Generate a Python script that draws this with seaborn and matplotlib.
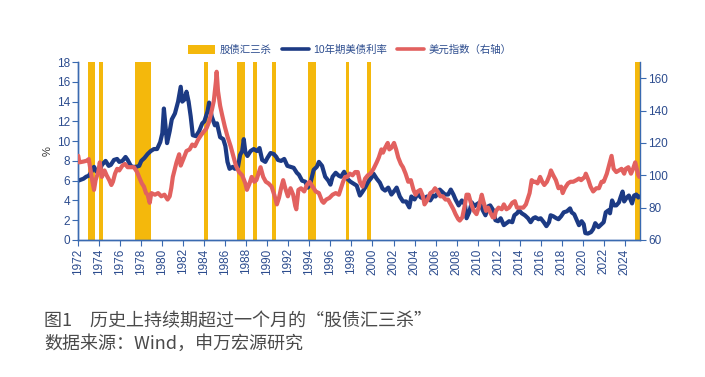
import numpy as np
import pandas as pd
import matplotlib.pyplot as plt
import seaborn as sns
from matplotlib.patches import Patch
from matplotlib.lines import Line2D

# 10年期美债利率 (%)
yield_years = [1972.0, 1972.25, 1972.5, 1972.75, 1973.0, 1973.25, 1973.5, 1973.75, 1974.0, 1974.25,
               1974.6, 1974.9, 1975.1, 1975.4, 1975.7, 1975.9, 1976.2, 1976.5, 1976.7, 1977.0,
               1977.2, 1977.5, 1977.8, 1978.0, 1978.3, 1978.6, 1978.9, 1979.2, 1979.5, 1979.8,
               1980.0, 1980.15, 1980.3, 1980.45, 1980.7, 1980.9, 1981.2, 1981.5, 1981.75, 1981.9,
               1982.1, 1982.3, 1982.5, 1982.7, 1982.9, 1983.2, 1983.5, 1983.8, 1984.0, 1984.3,
               1984.45, 1984.7, 1985.0, 1985.2, 1985.5, 1985.8, 1986.0, 1986.2, 1986.4, 1986.7,
               1986.9, 1987.2, 1987.4, 1987.6, 1987.75, 1987.9, 1988.1, 1988.4, 1988.7, 1989.0,
               1989.25, 1989.5, 1989.8, 1990.0, 1990.3, 1990.6, 1990.85, 1991.0, 1991.3, 1991.6,
               1991.9, 1992.2, 1992.5, 1992.8, 1993.0, 1993.3, 1993.6, 1993.85, 1994.1, 1994.4,
               1994.7, 1994.9, 1995.2, 1995.5, 1995.8, 1996.0, 1996.2, 1996.5, 1996.8, 1997.0,
               1997.3, 1997.6, 1997.9, 1998.2, 1998.5, 1998.8, 1999.0, 1999.3, 1999.6, 1999.9,
               2000.1, 2000.4, 2000.7, 2000.95, 2001.2, 2001.5, 2001.8, 2002.1, 2002.3, 2002.6,
               2002.9, 2003.2, 2003.5, 2003.7, 2004.0, 2004.3, 2004.6, 2004.9, 2005.2, 2005.5,
               2005.8, 2006.0, 2006.4, 2006.7, 2006.9, 2007.2, 2007.45, 2007.7, 2007.9, 2008.2,
               2008.5, 2008.8, 2008.95, 2009.2, 2009.45, 2009.7, 2009.9, 2010.2, 2010.5, 2010.75,
               2011.0, 2011.2, 2011.5, 2011.7, 2011.95, 2012.2, 2012.5, 2012.75, 2013.0, 2013.3,
               2013.5, 2013.75, 2013.95, 2014.2, 2014.5, 2014.8, 2015.05, 2015.3, 2015.5, 2015.8,
               2016.0, 2016.3, 2016.55, 2016.8, 2016.95, 2017.2, 2017.5, 2017.7, 2017.95, 2018.2,
               2018.5, 2018.8, 2018.95, 2019.2, 2019.45, 2019.65, 2019.9, 2020.1, 2020.25, 2020.5,
               2020.8, 2021.0, 2021.2, 2021.5, 2021.8, 2022.0, 2022.2, 2022.45, 2022.6, 2022.8,
               2023.0, 2023.2, 2023.45, 2023.6, 2023.8, 2023.95, 2024.2, 2024.4, 2024.7, 2024.9,
               2025.1, 2025.3, 2025.4]
yield_vals = [6.0, 6.1, 6.2, 6.4, 6.5, 6.9, 7.4, 6.9, 7.0, 7.6,
              8.0, 7.5, 7.6, 8.1, 8.2, 7.9, 8.0, 8.4, 8.1, 7.5,
              7.4, 7.4, 7.5, 8.0, 8.3, 8.7, 9.0, 9.2, 9.2, 9.9,
              10.8, 13.3, 11.5, 9.8, 11.0, 12.2, 12.8, 14.0, 15.5, 14.0,
              14.2, 15.0, 14.0, 12.5, 10.6, 10.5, 11.0, 11.8, 12.0, 13.0,
              13.9, 12.5, 11.6, 11.8, 10.4, 10.2, 9.5, 7.9, 7.2, 7.4,
              7.2, 7.4, 8.6, 9.0, 10.2, 8.9, 8.5, 9.0, 9.2, 9.0,
              9.3, 8.1, 7.9, 8.3, 8.8, 8.7, 8.4, 8.1, 8.0, 8.2,
              7.5, 7.4, 7.3, 6.8, 6.6, 6.0, 5.9, 5.3, 5.8, 7.1,
              7.4, 7.9, 7.5, 6.4, 6.0, 5.6, 6.4, 6.8, 6.5, 6.4,
              6.9, 6.2, 5.9, 5.7, 5.5, 4.5, 4.8, 5.3, 5.9, 6.3,
              6.7, 6.2, 5.8, 5.2, 5.0, 5.3, 4.6, 5.0, 5.3, 4.4,
              3.9, 3.9, 3.3, 4.4, 4.1, 4.7, 4.3, 4.2, 4.4, 4.0,
              4.5, 4.4, 5.1, 4.8, 4.6, 4.6, 5.1, 4.6, 4.1, 3.5,
              4.0, 3.6, 2.2, 2.8, 3.8, 3.4, 3.6, 3.8, 3.0, 2.5,
              3.4, 3.5, 3.0, 2.0, 1.9, 2.2, 1.5, 1.7, 1.9, 1.8,
              2.5, 2.7, 3.0, 2.7, 2.5, 2.2, 1.8, 2.2, 2.3, 2.1,
              2.2, 1.8, 1.4, 1.8, 2.5, 2.4, 2.2, 2.1, 2.4, 2.8,
              2.9, 3.2, 2.8, 2.6, 2.0, 1.5, 1.9, 1.6, 0.7, 0.65,
              0.8, 1.1, 1.7, 1.3, 1.6, 1.8, 2.8, 3.0, 2.7, 4.0,
              3.5, 3.5, 3.8, 4.3, 4.9, 3.9, 4.3, 4.5, 3.7, 4.5,
              4.6, 4.3, 4.4]

# 美元指数
dxy_years = [1972.0, 1972.1, 1972.5, 1972.8, 1973.0, 1973.15, 1973.35, 1973.5, 1973.65, 1973.9,
             1974.05, 1974.25, 1974.5, 1974.7, 1974.95, 1975.15, 1975.3, 1975.5, 1975.7, 1975.9,
             1976.2, 1976.45, 1976.7, 1977.0, 1977.3, 1977.6, 1977.85, 1978.05, 1978.25, 1978.45,
             1978.6, 1978.8, 1978.95, 1979.3, 1979.6, 1979.9, 1980.2, 1980.5, 1980.7, 1980.85,
             1981.0, 1981.2, 1981.35, 1981.6, 1981.75, 1982.0, 1982.3, 1982.6, 1982.85, 1983.1,
             1983.4, 1983.7, 1983.95, 1984.2, 1984.45, 1984.7, 1984.9, 1985.1, 1985.17, 1985.3,
             1985.5, 1985.7, 1985.95, 1986.2, 1986.5, 1986.75, 1987.0, 1987.3, 1987.6, 1987.9,
             1988.05, 1988.3, 1988.5, 1988.75, 1988.95, 1989.2, 1989.35, 1989.6, 1989.85, 1990.1,
             1990.4, 1990.65, 1990.9, 1991.1, 1991.3, 1991.5, 1991.7, 1991.95, 1992.2, 1992.45,
             1992.65, 1992.75, 1992.95, 1993.2, 1993.5, 1993.75, 1994.0, 1994.3, 1994.6, 1994.9,
             1995.2, 1995.35, 1995.6, 1995.9, 1996.2, 1996.5, 1996.8, 1997.0, 1997.2, 1997.4,
             1997.6, 1997.85, 1998.1, 1998.35, 1998.6, 1998.8, 1999.05, 1999.3, 1999.55, 1999.8,
             2000.1, 2000.4, 2000.6, 2000.85, 2001.0, 2001.2, 2001.45, 2001.6, 2001.8, 2002.05,
             2002.25, 2002.45, 2002.7, 2002.9, 2003.15, 2003.4, 2003.65, 2003.9, 2004.1, 2004.3,
             2004.55, 2004.8, 2004.95, 2005.25, 2005.5, 2005.75, 2005.95, 2006.2, 2006.45, 2006.7,
             2006.95, 2007.2, 2007.45, 2007.7, 2007.9, 2008.15, 2008.3, 2008.55, 2008.8, 2008.95,
             2009.15, 2009.4, 2009.65, 2009.9, 2010.1, 2010.4, 2010.55, 2010.8, 2011.0, 2011.2,
             2011.45, 2011.6, 2011.75, 2012.0, 2012.3, 2012.5, 2012.75, 2013.0, 2013.3, 2013.55,
             2013.75, 2014.0, 2014.35, 2014.6, 2014.8, 2014.95, 2015.15, 2015.3, 2015.5, 2015.7,
             2015.95, 2016.15, 2016.35, 2016.6, 2016.85, 2016.98, 2017.2, 2017.45, 2017.7, 2017.95,
             2018.1, 2018.3, 2018.6, 2018.85, 2019.1, 2019.4, 2019.65, 2019.85, 2020.2, 2020.3,
             2020.55, 2020.75, 2021.0, 2021.3, 2021.55, 2021.8, 2022.0, 2022.3, 2022.55, 2022.75,
             2022.95, 2023.2, 2023.45, 2023.7, 2023.95, 2024.1, 2024.35, 2024.6, 2024.8, 2025.0,
             2025.15, 2025.3, 2025.4]
dxy_vals = [112, 108, 108.5, 109, 110, 104, 96, 91, 97, 102,
            108, 99, 103, 100, 97, 94, 96, 101, 104, 103,
            106, 107, 105, 105, 105, 102, 98, 95, 93, 89,
            88, 83, 89, 88, 89, 87, 88, 85, 87, 92,
            99, 104, 108, 113, 106, 110, 115, 116, 119, 118,
            122, 125, 127, 129, 133, 140, 146, 158, 164, 152,
            143, 137, 130, 124, 118, 112, 106, 102, 100, 95,
            91, 95, 99, 96, 97, 102, 105, 99, 96, 95,
            93, 88, 82, 86, 92, 97, 92, 87, 92, 88,
            81, 79, 91, 92, 90, 94, 96, 93, 90, 89,
            84, 83, 85, 86, 88, 89, 88, 92, 96, 99,
            99, 101, 100, 102, 102, 96, 93, 98, 100, 101,
            104, 108, 111, 116, 114, 117, 120, 116, 117, 120,
            116, 111, 107, 105, 101, 96, 97, 91, 88, 90,
            91, 87, 82, 85, 89, 90, 92, 90, 87, 87,
            85, 85, 82, 79, 76, 73, 72, 74, 82, 88,
            88, 82, 78, 76, 80, 88, 84, 78, 80, 77,
            74, 74, 78, 80, 79, 82, 79, 80, 83, 84,
            80, 80, 80, 82, 86, 89, 97, 96, 96, 95,
            99, 96, 94, 96, 100, 103, 100, 97, 92, 93,
            89, 92, 95, 96, 96, 97, 98, 97, 99, 101,
            97, 93, 90, 92, 92, 96, 96, 101, 107, 112,
            104, 102, 103, 104, 101, 104, 105, 101, 104, 108,
            104, 100, 99]

# 股债汇三杀 区间 (起, 止)
kill_start = [1972.92, 1973.97, 1977.40, 1983.97, 1987.14, 1987.52, 1988.64, 1990.45,
              1993.85, 1997.47, 1999.50, 2025.02]
kill_end = [1973.58, 1974.40, 1978.92, 1984.30, 1987.50, 1987.87, 1988.99, 1990.80,
            1994.60, 1997.80, 1999.90, 2025.42]

year_ticks = list(range(1972, 2025, 2))

df_yield = pd.DataFrame({'year': yield_years, 'value': yield_vals})
df_dxy = pd.DataFrame({'year': dxy_years, 'value': dxy_vals})

sns.set_style('ticks')
plt.rcParams['font.family'] = ['Liberation Sans', 'Noto Sans CJK SC', 'DejaVu Sans']

blue = '#1C3A84'
red = '#E2615F'
gold = '#F4B80C'
axis_col = '#3A6AB0'
label_col = '#2C4C8E'

fig = plt.figure(figsize=(7.05, 3.77), dpi=100)
ax = fig.add_axes([0.111, 0.3634, 0.797, 0.472])
ax2 = ax.twinx()

for s, e in zip(kill_start, kill_end):
    ax.axvspan(s, e, color=gold, lw=0, zorder=0)

sns.lineplot(data=df_yield, x='year', y='value', ax=ax, color=blue, lw=3.0, zorder=3)
sns.lineplot(data=df_dxy, x='year', y='value', ax=ax2, color=red, lw=3.0, zorder=3)

ax.set_xlim(1972, 2025.47)
ax.set_ylim(0, 18)
ax.set_yticks(range(0, 19, 2))
ax2.set_ylim(60, 170)
ax2.set_yticks(range(60, 161, 20))
ax.set_xticks(year_ticks)
ax.set_xticklabels([str(y) for y in year_ticks], rotation=90)

ax.set_xlabel('')
ax2.set_xlabel('')
ax2.set_ylabel('')
ax.set_ylabel('%', fontsize=8, color='#333333', labelpad=3)

for a in (ax, ax2):
    a.spines['top'].set_visible(False)
    for side in ('left', 'right', 'bottom'):
        a.spines[side].set_color(axis_col)
        a.spines[side].set_linewidth(1.0)
    a.tick_params(colors=axis_col, labelcolor=label_col, labelsize=8.5, length=4, width=0.8, pad=2)
ax.spines['right'].set_visible(False)

handles = [Patch(facecolor=gold, edgecolor='none'),
           Line2D([], [], color=blue, lw=2.6),
           Line2D([], [], color=red, lw=2.6)]
labels = ['股债汇三杀', '10年期美债利率', '美元指数（右轴）']
fig.legend(handles, labels, loc='center', bbox_to_anchor=(0.496, 0.867), ncol=3,
           frameon=False, fontsize=7.5, labelcolor=label_col, handlelength=2.6,
           handleheight=0.9, columnspacing=1.0, handletextpad=0.4)

fig.text(0.063, 0.147, '图1　历史上持续期超过一个月的“股债汇三杀”', fontsize=13,
         color='#4a4a4a', va='center', family=['Noto Sans CJK SC'])
fig.text(0.063, 0.088, '数据来源：Wind，申万宏源研究', fontsize=13,
         color='#4a4a4a', va='center', family=['Noto Sans CJK SC'])

fig.savefig('out.png', dpi=100)
